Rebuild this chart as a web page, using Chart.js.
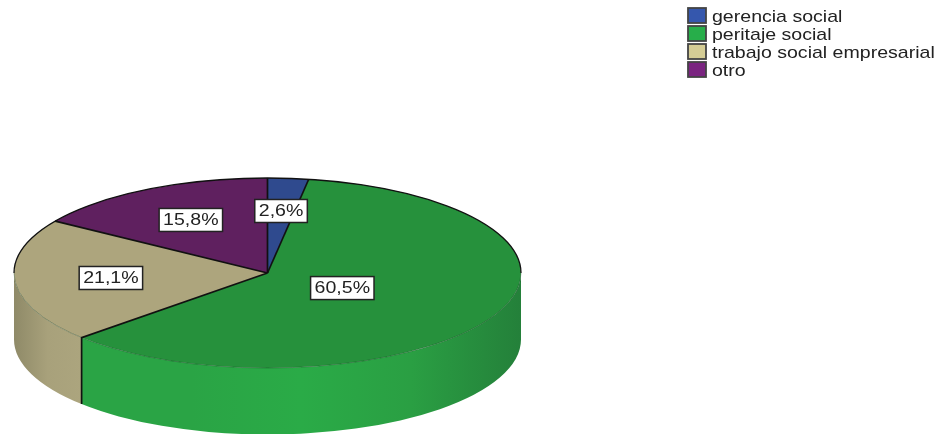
<!DOCTYPE html>
<html>
<head>
<meta charset="utf-8">
<title>Pie</title>
<script src="https://cdn.jsdelivr.net/npm/chart.js@4/dist/chart.umd.min.js"></script>
<style>
    body { margin: 0; background: #fff; overflow: hidden; }
    canvas { display: block; filter: blur(0.6px); }
</style>
</head>
<body>
<canvas id="pie" width="940" height="434"></canvas>
<script>
// Data
const categories = ['gerencia social', 'peritaje social', 'trabajo social empresarial', 'otro'];
const percents = [2.6, 60.5, 21.1, 15.8];

// Colours
const topColors = ['#2f4a8e', '#26913c', '#ada57d', '#5f205f'];
const legendColors = ['#3557ad', '#27ae4a', '#d5cd95', '#7a2480'];

// Side wall gradient stops, left to right
const wallStops = [
    ['#2f4a8e', '#2f4a8e'],
    ['#2aa445', '#2aa445', '#2aab47', '#2a9f43', '#24803a'],
    ['#8f8a68', '#a8a17b', '#aca57e'],
    ['#5f205f', '#5f205f']
];

// Where each label sits along its slice radius
const labelRadius = [0.655, 0.335, 0.62, 0.635];

// Drawing geometry
const PIE = { cx: 267.5, cy: 273, rx: 253.5, ry: 95, depth: 66.5 };
const TEXT = { font: '17px "Liberation Sans"', stretch: 1.15, color: '#222' };
const LEGEND = { x: 688, y: 8, boxW: 18, boxH: 15, rowH: 18, textX: 712 };

function stretchedText(ctx, text, x, y, align) {
    ctx.save();
    ctx.translate(x, y);
    ctx.scale(TEXT.stretch, 1);
    ctx.font = TEXT.font;
    ctx.fillStyle = TEXT.color;
    ctx.textAlign = align;
    ctx.textBaseline = 'middle';
    ctx.fillText(text, 0, 0);
    ctx.restore();
}

// Extruded wall under the slices, plus the flattening of the round pie
const tiltPlugin = {
    id: 'tilt',
    beforeDatasetDraw(chart) {
        const ctx = chart.ctx;
        const arcs = chart.getDatasetMeta(0).data;
        const { cx, cy, rx, ry, depth } = PIE;

        arcs.forEach((arc, i) => {
            // only the part facing the viewer (0..PI in canvas angles)
            const a0 = Math.max(arc.startAngle, 0);
            const a1 = Math.min(arc.endAngle, Math.PI);
            if (a1 <= a0) return;

            const grad = ctx.createLinearGradient(
                cx + rx * Math.cos(a1), 0, cx + rx * Math.cos(a0), 0);
            wallStops[i].forEach((c, k) => grad.addColorStop(k / (wallStops[i].length - 1), c));

            ctx.beginPath();
            ctx.ellipse(cx, cy, rx, ry, 0, a0, a1);
            ctx.ellipse(cx, cy + depth, rx, ry, 0, a1, a0, true);
            ctx.closePath();
            ctx.fillStyle = grad;
            ctx.fill();
        });

        const c = arcs[0];
        ctx.save();
        ctx.translate(cx, cy);
        ctx.scale(rx / c.outerRadius, ry / c.outerRadius);
        ctx.translate(-c.x, -c.y);
    },
    afterDatasetDraw(chart) {
        chart.ctx.restore();
    },
    afterDatasetsDraw(chart) {
        const ctx = chart.ctx;
        const arcs = chart.getDatasetMeta(0).data;
        const { cx, cy, rx, ry, depth } = PIE;

        // Front rim, thin
        ctx.beginPath();
        ctx.ellipse(cx, cy, rx, ry, 0, 0, Math.PI);
        ctx.strokeStyle = 'rgba(20, 60, 30, 0.45)';
        ctx.lineWidth = 0.8;
        ctx.stroke();

        // Back rim, black
        ctx.beginPath();
        ctx.ellipse(cx, cy, rx, ry, 0, Math.PI, Math.PI * 2);
        ctx.strokeStyle = '#111';
        ctx.lineWidth = 1.3;
        ctx.stroke();

        // Slice borders
        ctx.strokeStyle = '#111';
        ctx.lineWidth = 1.7;
        arcs.forEach(arc => {
            const px = cx + rx * Math.cos(arc.startAngle);
            const py = cy + ry * Math.sin(arc.startAngle);
            ctx.beginPath();
            ctx.moveTo(cx, cy);
            ctx.lineTo(px, py);
            if (Math.sin(arc.startAngle) > 0) {
                ctx.lineTo(px, py + depth);
            }
            ctx.stroke();
        });

        // Value labels
        arcs.forEach((arc, i) => {
            const mid = (arc.startAngle + arc.endAngle) / 2;
            const x = cx + labelRadius[i] * rx * Math.cos(mid);
            const y = cy + labelRadius[i] * ry * Math.sin(mid);
            const text = percents[i].toFixed(1).replace('.', ',') + '%';

            ctx.font = TEXT.font;
            const w = ctx.measureText(text).width * TEXT.stretch + 8;
            ctx.fillStyle = '#fff';
            ctx.strokeStyle = '#222';
            ctx.lineWidth = 1.5;
            ctx.fillRect(x - w / 2, y - 11.5, w, 23);
            ctx.strokeRect(x - w / 2, y - 11.5, w, 23);
            stretchedText(ctx, text, x, y + 0.5, 'center');
        });

        // Legend
        categories.forEach((name, i) => {
            const y = LEGEND.y + i * LEGEND.rowH;
            ctx.fillStyle = legendColors[i];
            ctx.strokeStyle = '#444';
            ctx.lineWidth = 1.8;
            ctx.fillRect(LEGEND.x, y, LEGEND.boxW, LEGEND.boxH);
            ctx.strokeRect(LEGEND.x, y, LEGEND.boxW, LEGEND.boxH);
            stretchedText(ctx, name, LEGEND.textX, y + LEGEND.boxH / 2 + 1.5, 'left');
        });
    }
};

new Chart(document.getElementById('pie'), {
    type: 'pie',
    data: {
        labels: categories,
        datasets: [{
            data: percents,
            backgroundColor: topColors,
            borderWidth: 0
        }]
    },
    options: {
        responsive: false,
        animation: false,
        plugins: {
            legend: { display: false },
            tooltip: { enabled: false }
        }
    },
    plugins: [tiltPlugin]
});
</script>
</body>
</html>
